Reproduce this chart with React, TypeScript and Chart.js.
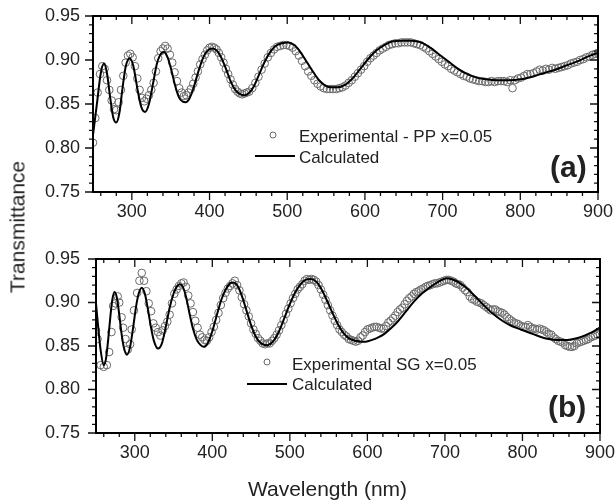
import React, { useEffect, useRef } from "react";
import { Chart, registerables } from "chart.js";

Chart.register(...registerables);

const FONT = "'Liberation Sans', Arial, Helvetica, sans-serif";

// ---------- Panel (a): Experimental - PP x=0.05 ----------
const EXP_A_WL = [
  250, 253, 256, 259, 262, 265, 268, 271, 274, 277,
  280, 283, 286, 289, 292, 295, 298, 301, 304, 307,
  310, 313, 316, 319, 322, 325, 328, 331, 334, 337,
  340, 343, 346, 349, 352, 355, 358, 361, 364, 367,
  370, 373, 376, 379, 382, 385, 388, 391, 394, 397,
  400, 403, 406, 409, 412, 415, 418, 421, 424, 427,
  430, 433, 436, 439, 442, 445, 448, 451, 455, 459,
  463, 467, 471, 475, 479, 483, 487, 491, 495, 499,
  503, 507, 511, 515, 519, 523, 527, 531, 535, 539,
  543, 547, 551, 555, 559, 563, 567, 571, 575, 579,
  583, 587, 591, 595, 599, 603, 607, 611, 615, 619,
  623, 627, 631, 635, 639, 643, 647, 651, 655, 659,
  663, 667, 671, 675, 679, 683, 687, 691, 695, 699,
  703, 707, 711, 715, 719, 723, 727, 731, 735, 739,
  743, 747, 751, 755, 759, 763, 767, 771, 775, 779,
  783, 787, 790, 793, 797, 801, 805, 809, 813, 817,
  821, 825, 829, 833, 837, 841, 845, 849, 853, 857,
  861, 865, 869, 873, 877, 881, 885, 889, 893, 897,
  900,
];
const EXP_A_T = [
  0.806, 0.834, 0.863, 0.884, 0.893, 0.890, 0.877, 0.866, 0.854, 0.844,
  0.843, 0.852, 0.866, 0.882, 0.897, 0.905, 0.907, 0.903, 0.893, 0.879,
  0.866, 0.857, 0.853, 0.856, 0.860, 0.866, 0.874, 0.887, 0.902, 0.910,
  0.913, 0.916, 0.913, 0.906, 0.897, 0.886, 0.876, 0.868, 0.863, 0.859,
  0.860, 0.863, 0.867, 0.873, 0.880, 0.887, 0.895, 0.901, 0.906, 0.911,
  0.914, 0.915, 0.914, 0.912, 0.908, 0.903, 0.897, 0.890, 0.884, 0.878,
  0.872, 0.867, 0.864, 0.862, 0.861, 0.862, 0.863, 0.864, 0.868, 0.874,
  0.881, 0.889, 0.896, 0.903, 0.908, 0.912, 0.915, 0.916, 0.917, 0.917,
  0.916, 0.914, 0.910, 0.905, 0.899, 0.893, 0.887, 0.882, 0.877, 0.873,
  0.870, 0.868, 0.867, 0.867, 0.867, 0.867, 0.868, 0.869, 0.871, 0.874,
  0.877, 0.881, 0.885, 0.889, 0.893, 0.898, 0.902, 0.905, 0.908, 0.911,
  0.913, 0.915, 0.917, 0.918, 0.919, 0.919, 0.920, 0.920, 0.920, 0.920,
  0.919, 0.918, 0.917, 0.915, 0.913, 0.910, 0.907, 0.904, 0.901, 0.898,
  0.895, 0.893, 0.890, 0.888, 0.886, 0.884, 0.882, 0.881, 0.879, 0.878,
  0.877, 0.876, 0.876, 0.875, 0.875, 0.876, 0.875, 0.876, 0.876, 0.876,
  0.875, 0.877, 0.868, 0.877, 0.879, 0.880, 0.882, 0.884, 0.884, 0.885,
  0.887, 0.889, 0.888, 0.890, 0.889, 0.891, 0.890, 0.891, 0.892, 0.893,
  0.894, 0.896, 0.897, 0.898, 0.900, 0.901, 0.903, 0.904, 0.906, 0.907,
  0.908,
];
const CALC_A_WL = [
  250, 255, 260, 264, 268, 272, 276, 280, 284, 288,
  292, 297, 302, 307, 312, 317, 322, 327, 332, 336,
  341, 346, 351, 356, 361, 365, 369, 374, 380, 386,
  392, 398, 404, 410, 416, 422, 428, 434, 440, 445,
  450, 457, 464, 471, 478, 485, 493, 501, 509, 517,
  525, 533, 541, 549, 557, 565, 575, 585, 595, 605,
  615, 625, 635, 648, 660, 672, 684, 696, 708, 720,
  732, 744, 756, 770, 786, 800, 815, 830, 845, 860,
  875, 890, 900,
];
const CALC_A_T = [
  0.815, 0.850, 0.885, 0.896, 0.885, 0.858, 0.835, 0.829, 0.840, 0.868,
  0.892, 0.902, 0.893, 0.868, 0.847, 0.841, 0.850, 0.872, 0.895, 0.905,
  0.909, 0.903, 0.888, 0.870, 0.857, 0.853, 0.852, 0.856, 0.870, 0.888,
  0.903, 0.911, 0.913, 0.910, 0.901, 0.888, 0.874, 0.865, 0.861, 0.860,
  0.862, 0.870, 0.884, 0.898, 0.909, 0.916, 0.919, 0.920, 0.917, 0.909,
  0.898, 0.887, 0.877, 0.871, 0.869, 0.869, 0.872, 0.880, 0.891, 0.902,
  0.911, 0.917, 0.921, 0.922, 0.922, 0.920, 0.914, 0.906, 0.898, 0.890,
  0.884, 0.880, 0.878, 0.877, 0.877, 0.878, 0.881, 0.885, 0.889, 0.894,
  0.899, 0.905, 0.908,
];

// ---------- Panel (b): Experimental SG x=0.05 ----------
const EXP_B_WL = [
  250, 252, 256, 260, 264, 267, 270, 272, 275, 278,
  280, 283, 285, 288, 291, 294, 296, 299, 303, 306,
  309, 312, 315, 318, 321, 324, 327, 330, 333, 336,
  339, 342, 345, 348, 351, 354, 357, 360, 363, 366,
  369, 372, 375, 378, 381, 384, 387, 390, 393, 396,
  399, 402, 405, 408, 411, 414, 417, 420, 423, 426,
  429, 432, 435, 438, 441, 444, 447, 450, 453, 456,
  459, 462, 465, 468, 471, 474, 477, 480, 483, 486,
  489, 492, 495, 498, 501, 504, 507, 510, 513, 516,
  519, 522, 525, 528, 531, 534, 537, 540, 543, 546,
  549, 552, 555, 558, 561, 564, 567, 570, 573, 576,
  579, 582, 585, 588, 591, 594, 597, 600, 603, 606,
  609, 612, 615, 618, 621, 624, 627, 630, 633, 636,
  639, 642, 645, 648, 651, 654, 657, 660, 663, 666,
  669, 672, 675, 678, 681, 684, 687, 690, 693, 696,
  699, 702, 705, 708, 711, 714, 717, 720, 723, 726,
  729, 732, 735, 738, 741, 744, 747, 750, 753, 756,
  759, 762, 765, 768, 771, 774, 777, 780, 783, 786,
  789, 792, 795, 798, 801, 804, 807, 810, 813, 816,
  819, 822, 825, 828, 831, 834, 837, 840, 843, 846,
  849, 852, 855, 858, 861, 864, 867, 870, 873, 876,
  879, 882, 885, 888, 891, 894, 897, 900,
];
const EXP_B_T = [
  0.868, 0.858, 0.828, 0.826, 0.828, 0.843, 0.866, 0.896, 0.899, 0.907,
  0.900, 0.883, 0.871, 0.858, 0.846, 0.852, 0.869, 0.891, 0.911, 0.925,
  0.934, 0.925, 0.913, 0.899, 0.890, 0.876, 0.871, 0.866, 0.862, 0.868,
  0.873, 0.878, 0.886, 0.899, 0.910, 0.915, 0.919, 0.922, 0.923, 0.918,
  0.908, 0.899, 0.889, 0.879, 0.871, 0.863, 0.860, 0.857, 0.856, 0.860,
  0.866, 0.872, 0.880, 0.888, 0.897, 0.905, 0.911, 0.916, 0.919, 0.922,
  0.925, 0.920, 0.914, 0.906, 0.898, 0.891, 0.884, 0.876, 0.869, 0.864,
  0.859, 0.856, 0.853, 0.852, 0.853, 0.853, 0.856, 0.859, 0.863, 0.868,
  0.874, 0.880, 0.887, 0.893, 0.899, 0.905, 0.910, 0.915, 0.918, 0.921,
  0.925, 0.927, 0.926, 0.927, 0.926, 0.924, 0.920, 0.915, 0.909, 0.903,
  0.897, 0.891, 0.885, 0.879, 0.874, 0.869, 0.866, 0.863, 0.861, 0.858,
  0.857, 0.856, 0.855, 0.856, 0.860, 0.862, 0.866, 0.869, 0.870, 0.871,
  0.872, 0.872, 0.871, 0.870, 0.870, 0.873, 0.877, 0.879, 0.882, 0.885,
  0.889, 0.892, 0.894, 0.898, 0.902, 0.905, 0.907, 0.910, 0.912, 0.913,
  0.915, 0.916, 0.918, 0.919, 0.920, 0.921, 0.922, 0.922, 0.923, 0.924,
  0.925, 0.926, 0.926, 0.925, 0.924, 0.922, 0.921, 0.920, 0.917, 0.914,
  0.912, 0.907, 0.904, 0.903, 0.901, 0.900, 0.899, 0.897, 0.895, 0.893,
  0.891, 0.892, 0.892, 0.890, 0.889, 0.888, 0.886, 0.883, 0.881, 0.879,
  0.877, 0.876, 0.875, 0.873, 0.872, 0.872, 0.874, 0.872, 0.870, 0.870,
  0.869, 0.870, 0.869, 0.868, 0.866, 0.864, 0.863, 0.860, 0.858, 0.856,
  0.855, 0.854, 0.851, 0.850, 0.849, 0.849, 0.850, 0.853, 0.854, 0.855,
  0.856, 0.857, 0.858, 0.860, 0.861, 0.862, 0.863, 0.864,
];
const CALC_B_WL = [
  250, 253, 256, 260, 263, 266, 269, 271, 274, 277,
  280, 283, 286, 290, 294, 298, 302, 305, 309, 313,
  317, 321, 325, 330, 335, 340, 345, 350, 354, 358,
  362, 366, 370, 375, 380, 385, 389, 394, 400, 406,
  412, 418, 423, 427, 432, 438, 444, 450, 456, 463,
  471, 478, 485, 492, 499, 506, 513, 520, 527, 534,
  541, 548, 555, 562, 569, 576, 584, 592, 598, 606,
  614, 622, 630, 640, 650, 660, 670, 680, 692, 703,
  714, 726, 738, 750, 762, 774, 786, 798, 810, 822,
  834, 846, 858, 870, 880, 890, 900,
];
const CALC_B_T = [
  0.899, 0.870, 0.845, 0.828, 0.836, 0.860, 0.888, 0.903, 0.912, 0.905,
  0.886, 0.864, 0.848, 0.840, 0.849, 0.872, 0.897, 0.910, 0.917, 0.910,
  0.892, 0.871, 0.855, 0.847, 0.853, 0.872, 0.894, 0.910, 0.918, 0.921,
  0.918, 0.907, 0.890, 0.870, 0.857, 0.851, 0.849, 0.853, 0.867, 0.886,
  0.904, 0.916, 0.922, 0.923, 0.920, 0.908, 0.891, 0.874, 0.861, 0.853,
  0.851, 0.855, 0.865, 0.880, 0.896, 0.910, 0.920, 0.926, 0.927, 0.924,
  0.915, 0.902, 0.888, 0.875, 0.865, 0.859, 0.856, 0.855, 0.855, 0.857,
  0.860, 0.864, 0.870, 0.879, 0.890, 0.901, 0.910, 0.917, 0.924, 0.928,
  0.925, 0.918, 0.908, 0.897, 0.887, 0.879, 0.873, 0.869, 0.865, 0.861,
  0.858, 0.857, 0.857, 0.859, 0.862, 0.866, 0.871,
];

// ---------- Axes ----------
const X_TICKS = [300, 400, 500, 600, 700, 800, 900];
const X_MINOR = [260, 280, 320, 340, 360, 380, 420, 440, 460, 480, 520, 540, 560, 580, 620, 640, 660, 680, 720, 740, 760, 780, 820, 840, 860, 880];
const Y_TICKS = [0.75, 0.8, 0.85, 0.9, 0.95];
const Y_MINOR = [0.76, 0.77, 0.78, 0.79, 0.81, 0.82, 0.83, 0.84, 0.86, 0.87, 0.88, 0.89, 0.91, 0.92, 0.93, 0.94];

const framePlugin = {
  id: "panelFrame",
  afterDraw(chart: any, _args: any, opts: any) {
    const { ctx, chartArea: a } = chart;
    const xs = chart.scales.x;
    const ys = chart.scales.y;
    ctx.save();
    ctx.strokeStyle = "#111";
    ctx.lineWidth = 1.3;
    ctx.beginPath();
    const xt = (v: number, L: number) => {
      const p = xs.getPixelForValue(v);
      ctx.moveTo(p, a.bottom);
      ctx.lineTo(p, a.bottom + L);
      ctx.moveTo(p, a.top);
      ctx.lineTo(p, a.top + L);
    };
    const yt = (v: number, L: number) => {
      const p = ys.getPixelForValue(v);
      ctx.moveTo(a.left, p);
      ctx.lineTo(a.left - L, p);
      ctx.moveTo(a.right, p);
      ctx.lineTo(a.right - L, p);
    };
    X_MINOR.forEach((v) => xt(v, 4));
    X_TICKS.forEach((v) => xt(v, 8));
    Y_MINOR.forEach((v) => yt(v, 4));
    Y_TICKS.forEach((v) => yt(v, 8));
    ctx.stroke();
    ctx.lineWidth = 2;
    ctx.strokeStyle = "#000";
    ctx.strokeRect(a.left, a.top, a.right - a.left, a.bottom - a.top);

    // legend
    ctx.lineWidth = 1;
    ctx.strokeStyle = "#666";
    ctx.beginPath();
    ctx.arc(opts.circle[0], opts.circle[1], 3, 0, Math.PI * 2);
    ctx.stroke();
    ctx.lineWidth = 2;
    ctx.strokeStyle = "#000";
    ctx.beginPath();
    ctx.moveTo(opts.line[0], opts.line[2]);
    ctx.lineTo(opts.line[1], opts.line[2]);
    ctx.stroke();
    ctx.fillStyle = "#222";
    ctx.textBaseline = "alphabetic";
    ctx.textAlign = "left";
    ctx.font = `17px ${FONT}`;
    ctx.fillText(opts.expText, opts.textX, opts.expBase);
    ctx.fillText("Calculated", opts.textX, opts.calcBase);
    ctx.font = `bold 30px ${FONT}`;
    ctx.fillText(opts.label, opts.labelX, opts.labelBase);
    ctx.restore();
  },
};

type PanelProps = {
  top: number;
  h: number;
  area: { left: number; right: number; top: number; bottom: number };
  expX: number[];
  expY: number[];
  calcX: number[];
  calcY: number[];
  legend: any;
  yPad: number;
  xPad: number;
};

function Panel(p: PanelProps) {
  const ref = useRef<HTMLCanvasElement | null>(null);
  useEffect(() => {
    if (!ref.current) return;
    const chart = new Chart(ref.current, {
      type: "line",
      data: {
        datasets: [
          {
            label: p.legend.expText,
            data: p.expX.map((x, i) => ({ x, y: p.expY[i] })),
            showLine: false,
            pointRadius: 3.8,
            pointBorderWidth: 1,
            pointBorderColor: "#6a6a6a",
            pointBackgroundColor: "rgba(255,255,255,0)",
            order: 2,
          },
          {
            label: "Calculated",
            data: p.calcX.map((x, i) => ({ x, y: p.calcY[i] })),
            borderColor: "#000",
            borderWidth: 2,
            pointRadius: 0,
            fill: false,
            cubicInterpolationMode: "monotone",
            order: 0,
          },
        ],
      },
      options: {
        responsive: false,
        animation: false,
        events: [],
        layout: {
          padding: { top: p.area.top, right: 615 - p.area.right, left: 0, bottom: 0 },
        },
        plugins: {
          legend: { display: false },
          tooltip: { enabled: false },
          panelFrame: p.legend,
        } as any,
        scales: {
          x: {
            type: "linear",
            min: 250,
            max: 900,
            grid: { display: false, drawTicks: false },
            border: { display: false },
            ticks: {
              font: { family: FONT, size: 18 },
              color: "#222",
              padding: p.xPad,
              maxRotation: 0,
              autoSkip: false,
            },
            afterBuildTicks: (s: any) => {
              s.ticks = X_TICKS.map((v) => ({ value: v }));
            },
            afterFit: (s: any) => {
              s.height = p.h - p.area.bottom;
              s.paddingLeft = 0;
              s.paddingRight = 0;
            },
          },
          y: {
            type: "linear",
            min: 0.75,
            max: 0.95,
            grid: { display: false, drawTicks: false },
            border: { display: false },
            ticks: {
              font: { family: FONT, size: 18 },
              color: "#222",
              padding: p.yPad,
              callback: (v: any) => Number(v).toFixed(2),
            },
            afterBuildTicks: (s: any) => {
              s.ticks = Y_TICKS.map((v) => ({ value: v }));
            },
            afterFit: (s: any) => {
              s.width = p.area.left;
              s.paddingTop = 0;
              s.paddingBottom = 0;
            },
          },
        },
      } as any,
      plugins: [framePlugin],
    });
    return () => chart.destroy();
  }, []);
  return (
    <canvas
      ref={ref}
      width={615}
      height={p.h}
      style={{ position: "absolute", left: 0, top: p.top, width: 615, height: p.h }}
    />
  );
}

export default function App() {
  return (
    <div
      style={{
        position: "absolute",
        left: 0,
        top: 0,
        width: 615,
        height: 502,
        background: "#fff",
        overflow: "hidden",
      }}
    >
      <Panel
        top={0}
        h={240}
        area={{ left: 93, right: 598, top: 16, bottom: 192 }}
        expX={EXP_A_WL}
        expY={EXP_A_T}
        calcX={CALC_A_WL}
        calcY={CALC_A_T}
        yPad={13}
        xPad={9}
        legend={{
          expText: "Experimental - PP x=0.05",
          circle: [273, 135],
          line: [255, 295, 156],
          textX: 299,
          expBase: 142,
          calcBase: 163,
          label: "(a)",
          labelX: 550,
          labelBase: 177,
        }}
      />
      <Panel
        top={240}
        h={262}
        area={{ left: 96, right: 600, top: 19, bottom: 193 }}
        expX={EXP_B_WL}
        expY={EXP_B_T}
        calcX={CALC_B_WL}
        calcY={CALC_B_T}
        yPad={16}
        xPad={9}
        legend={{
          expText: "Experimental SG x=0.05",
          circle: [267, 122],
          line: [247, 287, 144],
          textX: 292,
          expBase: 130,
          calcBase: 150,
          label: "(b)",
          labelX: 548,
          labelBase: 177,
        }}
      />
      <div
        style={{
          position: "absolute",
          left: 17,
          top: 227,
          transform: "translate(-50%, -50%) rotate(-90deg)",
          font: `21px ${FONT}`,
          lineHeight: 1,
          whiteSpace: "nowrap",
          color: "#222",
        }}
      >
        Transmittance
      </div>
      <div
        style={{
          position: "absolute",
          left: 327.5,
          top: 487.5,
          transform: "translate(-50%, -50%)",
          font: `21px ${FONT}`,
          lineHeight: 1,
          whiteSpace: "nowrap",
          color: "#222",
        }}
      >
        Wavelength (nm)
      </div>
    </div>
  );
}
